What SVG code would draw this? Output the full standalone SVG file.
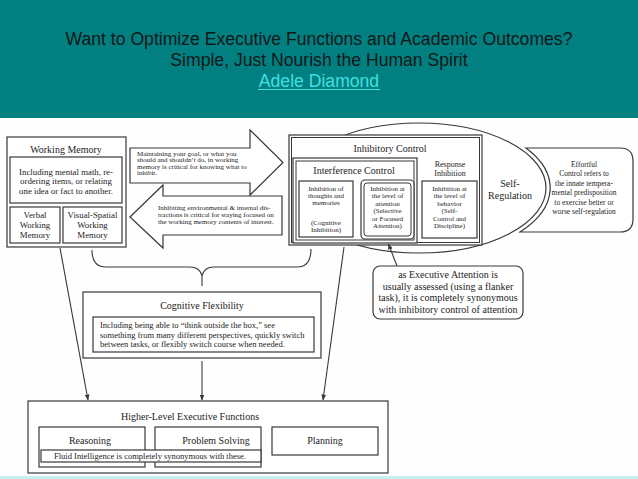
<svg xmlns="http://www.w3.org/2000/svg" width="638" height="479" viewBox="0 0 638 479">
<defs>
<style>
.hdr{font-family:"Liberation Sans",Arial,sans-serif;font-size:17.6px;fill:#101818;text-anchor:middle}
.link{fill:#40e0e0}
.box{fill:#fff;stroke:#383838;stroke-width:1.2}
.ln{fill:none;stroke:#383838;stroke-width:1}
.t{font-family:"Liberation Serif","Times New Roman",serif;fill:#1c1c1c}
.m{text-anchor:middle}
.f10{font-size:10px}
.f88{font-size:8.8px}
.f85{font-size:8.5px}
.f8{font-size:8px}
.f75{font-size:7.5px}
.f7{font-size:7px}
.con{fill:none;stroke:#383838;stroke-width:1.1}
</style>
<marker id="ah" viewBox="0 0 10 10" refX="9" refY="5" markerWidth="6" markerHeight="6" markerUnits="userSpaceOnUse" orient="auto">
<path d="M0,1 L10,5 L0,9 Z" fill="#383838"/>
</marker>
</defs>

<rect x="0" y="0" width="638" height="479" fill="#fefefe"/>

<g id="header">
<rect x="0" y="0" width="638" height="118" fill="#027f80"/>
<text class="hdr" x="319" y="45">Want to Optimize Executive Functions and Academic Outcomes?</text>
<text class="hdr" x="319" y="66">Simple, Just Nourish the Human Spirit</text>
<text class="hdr link" x="319" y="87">Adele Diamond</text>
<line x1="258" y1="89.5" x2="380" y2="89.5" stroke="#40e0e0" stroke-width="1.2"/>
</g>

<g id="self-regulation">
<ellipse class="box" cx="419" cy="188" rx="127" ry="65"/>
<text class="t m f10" x="510" y="186.5">Self-</text>
<text class="t m f10" x="510" y="198.5">Regulation</text>
</g>

<g id="effortful-control">
<path class="box" d="M526,148 H620 Q633,148 633,161 V219 Q633,232 620,232 H520 A131 69 0 0 0 526,148 Z"/>
<text class="t m f75" x="584" y="166.6">Effortful</text>
<text class="t m f75" x="584" y="176.1">Control refers to</text>
<text class="t m f75" x="584" y="185.6">the innate tempera-</text>
<text class="t m f75" x="584" y="195.1">mental predisposition</text>
<text class="t m f75" x="584" y="204.6">to exercise better or</text>
<text class="t m f75" x="584" y="214.1">worse self-regulation</text>
</g>

<g id="inhibitory-control">
<rect class="box" x="289" y="135" width="193" height="110" stroke-width="1.3"/>
<rect class="ln" x="291.5" y="137.5" width="188" height="105"/>
<text class="t m f10" x="390" y="152">Inhibitory Control</text>
<text class="t m f8" x="450" y="167">Response</text>
<text class="t m f8" x="450" y="175.5">Inhibition</text>
</g>

<g id="interference-control">
<rect class="box" x="293" y="158" width="124" height="85"/>
<rect class="ln" x="296" y="161" width="118" height="79"/>
<text class="t m f10" x="354" y="174">Interference Control</text>
</g>

<g id="cognitive-inhibition">
<rect class="box" x="299" y="181" width="54" height="56"/>
<text class="t m f7" x="326" y="190.5">Inhibition of</text>
<text class="t m f7" x="326" y="197.5">thoughts and</text>
<text class="t m f7" x="326" y="204.5">memories</text>
<text class="t m f7" x="326" y="224.5">(Cognitive</text>
<text class="t m f7" x="326" y="231.5">Inhibition)</text>
</g>

<g id="attention-inhibition">
<rect class="box" x="361" y="180" width="53" height="59" rx="4"/>
<rect class="ln" x="364" y="183" width="47" height="53" rx="3"/>
<text class="t m f7" x="387.5" y="190.5">Inhibition at</text>
<text class="t m f7" x="387.5" y="198">the level of</text>
<text class="t m f7" x="387.5" y="205.5">attention</text>
<text class="t m f7" x="387.5" y="213">(Selective</text>
<text class="t m f7" x="387.5" y="220.5">or Focused</text>
<text class="t m f7" x="387.5" y="228">Attention)</text>
</g>

<g id="response-inhibition">
<rect class="box" x="422" y="181" width="55" height="57"/>
<text class="t m f7" x="449.5" y="190.5">Inhibition at</text>
<text class="t m f7" x="449.5" y="198">the level of</text>
<text class="t m f7" x="449.5" y="205.5">behavior</text>
<text class="t m f7" x="449.5" y="213">(Self-</text>
<text class="t m f7" x="449.5" y="220.5">Control and</text>
<text class="t m f7" x="449.5" y="228">Discipline)</text>
</g>

<g id="working-memory">
<rect class="box" x="7" y="137" width="119" height="110" stroke-width="1.6"/>
<text class="t m f10" x="66" y="153.4">Working Memory</text>
<rect class="box" x="10" y="157" width="112" height="46"/>
<text class="t m f88" x="66" y="174.8">Including mental math, re-</text>
<text class="t m f88" x="66" y="184.4">ordering items, or relating</text>
<text class="t m f88" x="66" y="194">one idea or fact to another.</text>
<rect class="box" x="10" y="207" width="50" height="36"/>
<text class="t m f88" x="35" y="218">Verbal</text>
<text class="t m f88" x="35" y="228">Working</text>
<text class="t m f88" x="35" y="238">Memory</text>
<rect class="box" x="63" y="207" width="59" height="36"/>
<text class="t m f88" x="92.5" y="218">Visual-Spatial</text>
<text class="t m f88" x="92.5" y="228">Working</text>
<text class="t m f88" x="92.5" y="238">Memory</text>
</g>

<g id="wm-to-ic-arrow">
<polygon class="box" points="130,148 250,148 250,130 283,162.5 250,195 250,183 130,183" stroke-width="1.4"/>
<text class="t f7" x="137" y="155.8">Maintaining your goal, or what you</text>
<text class="t f7" x="137" y="162.3">should and shouldn’t do, in working</text>
<text class="t f7" x="137" y="168.8">memory is critical for knowing what to</text>
<text class="t f7" x="137" y="175.3">inhibit.</text>
</g>

<g id="ic-to-wm-arrow">
<polygon class="box" points="130,217 163,185 163,196 282,196 282,235 163,235 163,248" stroke-width="1.4"/>
<text class="t f7" x="158" y="209.8">Inhibiting environmental &amp; internal dis-</text>
<text class="t f7" x="158" y="216.8">tractions is critical for staying focused on</text>
<text class="t f7" x="158" y="223.6">the working memory contents of interest.</text>
</g>

<g id="executive-attention">
<rect class="box" x="373" y="266" width="150" height="53" rx="7"/>
<text class="t m f10" x="448" y="278.4">as Executive Attention is</text>
<text class="t m f10" x="448" y="289.9">usually assessed (using a flanker</text>
<text class="t m f10" x="448" y="301.4">task), it is completely synonymous</text>
<text class="t m f10" x="448" y="312.9">with inhibitory control of attention</text>
</g>

<g id="cognitive-flexibility">
<rect class="box" x="83" y="292" width="238" height="66"/>
<text class="t m f10" x="202" y="308.5">Cognitive Flexibility</text>
<rect class="box" x="93" y="317" width="221" height="35"/>
<text class="t f85" x="100" y="328">Including being able to “think outside the box,” see</text>
<text class="t f85" x="100" y="337.5">something from many different perspectives, quickly switch</text>
<text class="t f85" x="100" y="347">between tasks, or flexibly switch course when needed.</text>
</g>

<g id="higher-level-executive-functions">
<rect class="box" x="28" y="401" width="360" height="72"/>
<text class="t m f10" x="190" y="419.5">Higher-Level Executive Functions</text>
<rect class="box" x="39" y="427" width="106" height="40"/>
<text class="t m f10" x="90" y="443.5">Reasoning</text>
<rect class="box" x="155" y="427" width="106" height="40"/>
<text class="t m f10" x="216" y="443.5">Problem Solving</text>
<rect class="box" x="272" y="427" width="106" height="28"/>
<text class="t m f10" x="325" y="443.5">Planning</text>
<rect class="box" x="41" y="450" width="220" height="12" stroke-width="1"/>
<text class="t m f85" x="150" y="459">Fluid Intelligence is completely synonymous with these.</text>
</g>

<g id="connectors">
<path class="con" d="M92,250 Q92,267 106,267 H190 Q200,267 202,276 Q204,267 214,267 H297 Q311,267 311,249"/>
<line class="con" x1="202" y1="276" x2="202" y2="286"/>
<line class="con" x1="60" y1="248" x2="88" y2="400" marker-end="url(#ah)"/>
<line class="con" x1="202" y1="361" x2="202" y2="400" marker-end="url(#ah)"/>
<line class="con" x1="344" y1="247" x2="323" y2="400" marker-end="url(#ah)"/>
<line class="con" x1="397" y1="266" x2="388.5" y2="244" marker-end="url(#ah)"/>
</g>

<rect x="0" y="476" width="638" height="3" fill="#c8eef0"/>
</svg>
